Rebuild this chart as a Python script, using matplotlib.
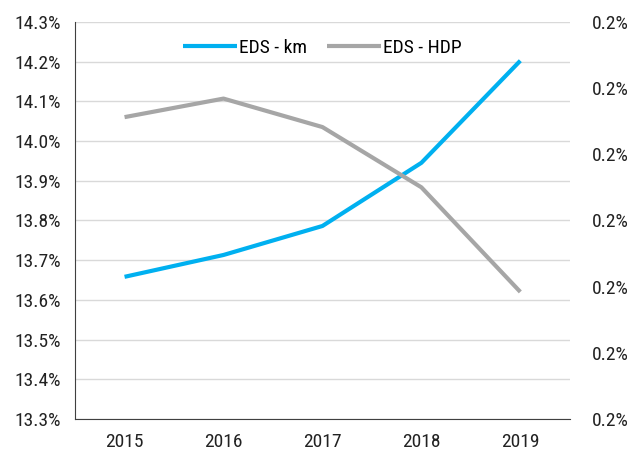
import matplotlib
matplotlib.use("Agg")
import matplotlib.pyplot as plt
from matplotlib.ticker import FuncFormatter, MultipleLocator

years = ["2015", "2016", "2017", "2018", "2019"]
eds_km = [13.658, 13.713, 13.786, 13.945, 14.202]          # percent, left axis
eds_hdp = [0.2256, 0.2284, 0.2241, 0.2150, 0.1992]         # percent, right axis

plt.rcParams['font.family'] = ['Roboto Condensed', 'DejaVu Sans']

fig = plt.figure(figsize=(6.31, 4.54), dpi=100)
ax = fig.add_axes([0.119, 0.077, 0.784, 0.875])
ax2 = ax.twinx()

x = list(range(len(years)))
l1, = ax.plot(x, eds_km, color="#00B0F0", lw=3, label="EDS - km", solid_capstyle="butt")
l2, = ax2.plot(x, eds_hdp, color="#A6A6A6", lw=3, label="EDS - HDP", solid_capstyle="butt")

ax.set_xlim(-0.5, 4.5)
ax.set_ylim(13.3, 14.3)
ax.yaxis.set_major_locator(MultipleLocator(0.1))
ax.yaxis.set_major_formatter(FuncFormatter(lambda v, p: f"{v:.1f}%"))
ax2.set_ylim(0.18, 0.24)
ax2.yaxis.set_major_locator(MultipleLocator(0.01))
ax2.yaxis.set_major_formatter(FuncFormatter(lambda v, p: f"{v:.1f}%"))

ax.set_xticks(x)
ax.set_xticklabels(years)
ax.grid(axis="y", color="#D9D9D9", lw=1)
ax.set_axisbelow(True)
for a in (ax, ax2):
    for s in ("top", "right"):
        a.spines[s].set_visible(False)
ax2.spines["left"].set_visible(False)
ax2.spines["bottom"].set_visible(False)
ax.spines["left"].set_color("#404040")
ax.spines["bottom"].set_color("#404040")
ax.tick_params(axis="both", length=0, labelsize=14, colors="#222222", pad=10)
ax.tick_params(axis="x", pad=10)
ax2.tick_params(axis="y", length=0, labelsize=14, colors="#222222", pad=16)

ax.legend(handles=[l1, l2], loc="upper center", bbox_to_anchor=(0.5, 1.0), ncol=2,
          frameon=False, fontsize=14, handlelength=2.8, columnspacing=1.0, handletextpad=0.1)

fig.savefig("out.png", dpi=100)
